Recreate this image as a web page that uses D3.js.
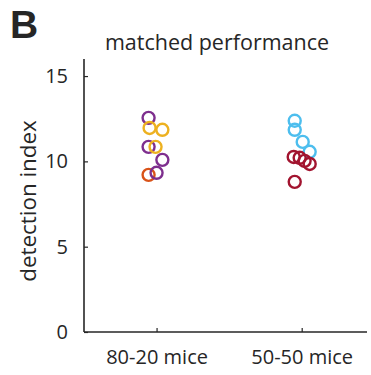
<!DOCTYPE html>
<html lang="en">
<head>
<meta charset="UTF-8">
<title>matched performance</title>
<script src="https://cdn.jsdelivr.net/npm/d3@7"></script>
<style>
  body { margin: 0; background: #fff; }
  text { font-family: "Open Sans", "Noto Sans", sans-serif; fill: #262626; }
</style>
</head>
<body>
<svg width="371" height="375"></svg>
<script>
// data
var groups = ["80-20 mice", "50-50 mice"];
var yTicks = [0, 5, 10, 15];

// 80-20 mice
var leftValues  = [12.55, 11.96, 11.85, 10.85, 10.85, 10.09, 9.21, 9.33];
var leftJitter  = [-0.055, -0.048, 0.04, -0.055, -0.007, 0.04, -0.055, 0.0];
var leftColors  = ["#7E2F8E", "#EDB120", "#EDB120", "#7E2F8E", "#EDB120", "#7E2F8E", "#D95319", "#7E2F8E"];

// 50-50 mice
var rightValues = [12.38, 11.85, 11.14, 10.56, 10.26, 10.21, 10.03, 9.85, 8.8];
var rightJitter = [-0.048, -0.048, 0.007, 0.055, -0.055, -0.014, 0.02, 0.055, -0.048];
var rightColors = ["#4DBEEE", "#4DBEEE", "#4DBEEE", "#4DBEEE", "#A2142F", "#A2142F", "#A2142F", "#A2142F", "#A2142F"];

var svg = d3.select("svg");
var plotL = 84, plotR = 367, plotT = 59, plotB = 332;

var x = d3.scaleLinear().domain([0.5, 2.45]).range([plotL, plotR]);
var y = d3.scaleLinear().domain([0, 16]).range([plotB, plotT]);

// axes (MATLAB style, ticks inward)
var yAxis = d3.axisLeft(y).tickValues(yTicks).tickSize(-4).tickPadding(16);
var gy = svg.append("g").attr("transform", "translate(" + plotL + ",0)").call(yAxis);
gy.select(".domain").attr("d", "M0," + plotT + "V" + plotB);

var xAxis = d3.axisBottom(x).tickValues([1, 2]).tickFormat(function (d) { return groups[d - 1]; })
    .tickSize(-4).tickPadding(15);
var gx = svg.append("g").attr("transform", "translate(0," + plotB + ")").call(xAxis);
gx.select(".domain").attr("d", "M" + plotL + ",0H" + plotR);

svg.selectAll(".domain").attr("stroke", "#262626").attr("stroke-width", 1.6);
svg.selectAll(".tick line").attr("stroke", "#262626").attr("stroke-width", 1.2);
svg.selectAll(".tick text").style("font-size", "20px").attr("fill", "#262626")
    .style("font-family", "'Open Sans', 'Noto Sans', sans-serif");
gx.selectAll(".tick text").attr("dy", "0.85em");

// points
var pts = [];
leftValues.forEach(function (v, i) { pts.push({g: 1, v: v, j: leftJitter[i], c: leftColors[i]}); });
rightValues.forEach(function (v, i) { pts.push({g: 2, v: v, j: rightJitter[i], c: rightColors[i]}); });

svg.append("g").selectAll("circle")
    .data(pts)
    .enter()
    .append("circle")
    .attr("cx", function (d) { return x(d.g + d.j); })
    .attr("cy", function (d) { return y(d.v); })
    .attr("r", 6)
    .attr("fill", "none")
    .attr("stroke", function (d) { return d.c; })
    .attr("stroke-width", 2.4);

// labels
svg.append("text")
    .attr("transform", "translate(36," + (y(7.68)) + ") rotate(-90)")
    .attr("text-anchor", "middle")
    .style("font-size", "22.4px")
    .text("detection index");

svg.append("text")
    .attr("x", 217).attr("y", 50)
    .attr("text-anchor", "middle")
    .style("font-size", "21.5px")
    .text("matched performance");

svg.append("text")
    .attr("x", 10).attr("y", 38)
    .style("font-size", "39px")
    .style("font-weight", "bold")
    .style("font-family", "Arial, 'Liberation Sans', sans-serif")
    .attr("fill", "#000")
    .text("B");
</script>
</body>
</html>
